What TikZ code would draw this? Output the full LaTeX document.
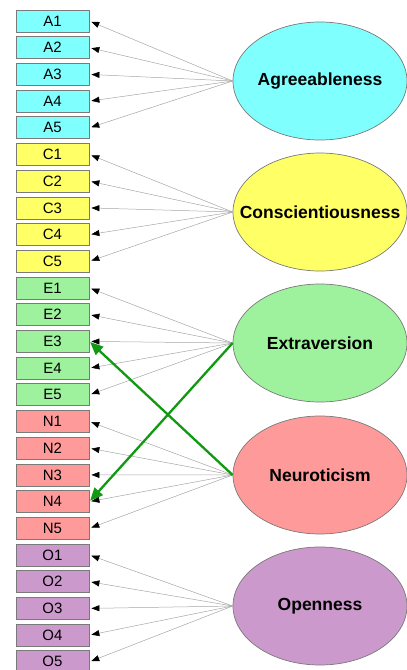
\documentclass[tikz,border=0pt]{standalone}
\usepackage{fontspec}
\setmainfont{Liberation Sans}
\usetikzlibrary{arrows.meta,shapes.geometric}
\definecolor{cA}{HTML}{80FFFF}
\definecolor{cC}{HTML}{FFFF66}
\definecolor{cE}{HTML}{9EF29E}
\definecolor{cN}{HTML}{FF9A9A}
\definecolor{cO}{HTML}{CC99CC}
\definecolor{bord}{HTML}{7A7A7A}
\definecolor{grn}{HTML}{119911}
\tikzset{
  item/.style={draw=bord, line width=0.8pt, minimum width=73pt, minimum height=22pt, inner sep=0pt, font=\fontsize{15}{15}\selectfont},
  factor/.style={ellipse, draw=bord, line width=0.7pt, minimum width=174pt, minimum height=118pt, inner sep=0pt},
  flabel/.style={inner sep=0pt, font=\fontsize{17.5}{17.5}\selectfont\bfseries},
  load/.style={draw=gray!70, line width=0.5pt, -{Triangle[length=8pt,width=6pt,color=black]}, shorten >=2pt},
  cross/.style={draw=grn, line width=2.3pt, -{Triangle[length=13pt,width=11pt]}, shorten >=1pt}
}
\begin{document}
\begin{tikzpicture}[x=1pt,y=-1pt]
\useasboundingbox (0,0) rectangle (407,670);
\foreach \L/\c [count=\g from 0] in {A/cA,C/cC,E/cE,N/cN,O/cO}{
  \foreach \k in {1,...,5}{
    \pgfmathsetmacro{\yy}{21+26.7*(\g*5+\k-1)}
    \node[item, fill=\c] (\L\k) at (52.5,\yy) {\L\k};
  }
}
\node[factor, fill=cA] (fA) at (320,81) {};
\node[factor, fill=cC] (fC) at (320,212) {};
\node[factor, fill=cE] (fE) at (320,343) {};
\node[factor, fill=cN] (fN) at (320,475) {};
\node[factor, fill=cO] (fO) at (320,606) {};
\node[flabel] (tA) at (fA.center) {Agreeableness};
\node[flabel] (tC) at (fC.center) {Conscientiousness};
\node[flabel] (tE) at (fE.center) {Extraversion};
\node[flabel] (tN) at (fN.center) {Neuroticism};
\node[flabel] (tO) at (fO.center) {Openness};
\foreach \L in {A,C,E,N,O}{
  \foreach \k in {1,...,5}{
    \draw[load] (f\L.west) -- (\L\k.east);
  }
}
\draw[cross] (fE.west) -- (N4.east);
\draw[cross] (fN.west) -- (E3.east);
\end{tikzpicture}
\end{document}
